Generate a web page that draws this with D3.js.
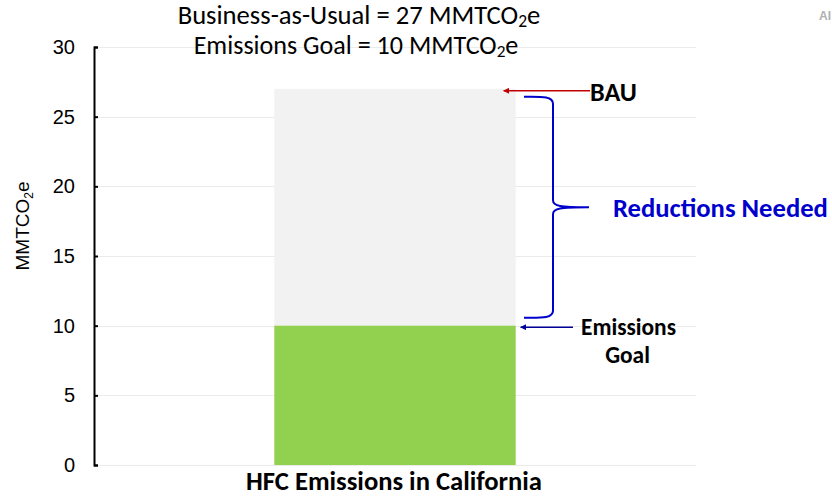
<!DOCTYPE html>
<html><head><meta charset="utf-8">
<script src="https://cdn.jsdelivr.net/npm/d3@7"></script>
<style>body{margin:0;background:#fff}svg{display:block}</style>
</head><body>
<svg id="c" width="832" height="498"></svg>
<script>
const categories = ["HFC Emissions in California"];
const bauValues = [27];
const goalValues = [10];
const yTicks = [0, 5, 10, 15, 20, 25, 30];
const titleLines = ["Business-as-Usual = 27 MMTCO", "Emissions Goal = 10 MMTCO"];
const yLabel = "MMTCO";

const svg = d3.select("#c");
const FONT = "Carlito, Lato, 'Open Sans', sans-serif";
const ARIAL = "'Liberation Sans', Arial, sans-serif";

const y = d3.scaleLinear().domain([0, 30]).range([465, 47]);
const x = d3.scaleBand().domain(categories).range([94, 696]).padding(0.4276);

function fit(sel, w) {
  const n = sel.node();
  const cur = parseFloat(sel.attr("font-size"));
  const len = n.getComputedTextLength();
  sel.attr("font-size", (cur * w / len).toFixed(2));
}

// gridlines
svg.append("g").selectAll("line").data(yTicks).join("line")
  .attr("x1", 96).attr("x2", 696)
  .attr("y1", d => Math.round(y(d)) + 0.5).attr("y2", d => Math.round(y(d)) + 0.5)
  .attr("stroke", "#ebebeb").attr("stroke-width", 1);

// bars
const cat = categories[0];
svg.append("g").selectAll("rect").data(categories).join("rect")
  .attr("x", d => x(d)).attr("width", x.bandwidth())
  .attr("y", (d, i) => y(bauValues[i])).attr("height", (d, i) => y(goalValues[i]) - y(bauValues[i]))
  .attr("fill", "#f2f2f2");
svg.append("g").selectAll("rect").data(categories).join("rect")
  .attr("x", d => x(d)).attr("width", x.bandwidth())
  .attr("y", (d, i) => y(goalValues[i])).attr("height", (d, i) => y(0) - y(goalValues[i]))
  .attr("fill", "#92d050");

// axis
const ax = svg.append("g").attr("transform", "translate(94,0)")
  .call(d3.axisLeft(y).tickValues(yTicks).tickSizeInner(-4).tickSizeOuter(-4).tickPadding(19));
ax.selectAll("path,line").attr("stroke", "#000").attr("stroke-width", 2);
ax.selectAll("text").attr("font-family", ARIAL).attr("font-size", 20).attr("fill", "#000");

// y label
const yl = svg.append("text").attr("transform", "translate(29,226) rotate(-90)")
  .attr("text-anchor", "middle").attr("font-family", ARIAL).attr("font-size", 19).attr("fill", "#000");
yl.append("tspan").text(yLabel);
yl.append("tspan").attr("font-size", 12).attr("dy", 4).text("2");
yl.append("tspan").attr("dy", -4).text("e");

// titles
const tPos = [[359, 24, 363], [356, 54, 325]];
titleLines.forEach((t, i) => {
  const tt = svg.append("text").attr("x", tPos[i][0]).attr("y", tPos[i][1])
    .attr("text-anchor", "middle").attr("font-family", FONT).attr("font-size", 22).attr("fill", "#000");
  tt.append("tspan").text(t);
  tt.append("tspan").attr("class", "sub").attr("font-size", 15).attr("dy", 3).text("2");
  tt.append("tspan").attr("dy", -3).text("e");
  fit(tt, tPos[i][2]);
  tt.select(".sub").attr("font-size", parseFloat(tt.attr("font-size")) * 0.66);
});

// category label
const cl = svg.append("text").attr("x", x(cat) + x.bandwidth() / 2 - 1).attr("y", 490)
  .attr("text-anchor", "middle").attr("font-family", FONT).attr("font-weight", "bold")
  .attr("font-size", 20).attr("fill", "#000").text(cat);
fit(cl, 296);

// markers
const defs = svg.append("defs");
[["arrR", "#c00000"], ["arrB", "#000099"]].forEach(([id, c]) => {
  defs.append("marker").attr("id", id).attr("viewBox", "0 0 10 10").attr("refX", 9).attr("refY", 5)
    .attr("markerWidth", 4).attr("markerHeight", 4).attr("orient", "auto")
    .append("path").attr("d", "M0,0 L10,5 L0,10 Z").attr("fill", c);
});
const xr = x(cat) + x.bandwidth();

// BAU arrow
svg.append("line").attr("x1", 590).attr("x2", xr - 12).attr("y1", y(bauValues[0]) + 2).attr("y2", y(bauValues[0]) + 2)
  .attr("stroke", "#c00000").attr("stroke-width", 1.5).attr("marker-end", "url(#arrR)");
const bau = svg.append("text").attr("x", 590).attr("y", 101).attr("font-family", FONT).attr("font-weight", "bold")
  .attr("font-size", 20).attr("fill", "#000").text("BAU");
fit(bau, 47);

// Goal arrow
svg.append("line").attr("x1", 573).attr("x2", xr + 5).attr("y1", y(goalValues[0]) + 1.5).attr("y2", y(goalValues[0]) + 1.5)
  .attr("stroke", "#000099").attr("stroke-width", 1.5).attr("marker-end", "url(#arrB)");
const eg1 = svg.append("text").attr("x", 628.5).attr("y", 335).attr("text-anchor", "middle").attr("font-family", FONT)
  .attr("font-weight", "bold").attr("font-size", 20).attr("fill", "#000").text("Emissions");
fit(eg1, 95);
svg.append("text").attr("x", 627.5).attr("y", 363).attr("text-anchor", "middle").attr("font-family", FONT)
  .attr("font-weight", "bold").attr("font-size", eg1.attr("font-size")).attr("fill", "#000").text("Goal");

// brace
const bTop = y(bauValues[0]) + 8, bBot = y(goalValues[0]) - 8, bMid = y((bauValues[0] + goalValues[0]) / 2);
const bx0 = 524, bx1 = 553, tip = 589;
const bp = d3.path();
bp.moveTo(bx0, bTop);
bp.bezierCurveTo(540, bTop, bx1, bTop - 1, bx1, bTop + 7);
bp.lineTo(bx1, bMid - 7);
bp.bezierCurveTo(bx1, bMid - 1, 560, bMid, tip, bMid);
bp.moveTo(tip, bMid);
bp.bezierCurveTo(560, bMid, bx1, bMid + 1, bx1, bMid + 7);
bp.lineTo(bx1, bBot - 7);
bp.bezierCurveTo(bx1, bBot + 1, 540, bBot, bx0, bBot);
svg.append("path").attr("d", bp.toString()).attr("fill", "none").attr("stroke", "#0000cc").attr("stroke-width", 2);
const rn = svg.append("text").attr("x", 613).attr("y", 217).attr("font-family", FONT).attr("font-weight", "bold")
  .attr("font-size", 20).attr("fill", "#0000cc").text("Reductions Needed");
fit(rn, 215);

// corner logo fragment
svg.append("text").attr("x", 819).attr("y", 20).attr("font-family", ARIAL).attr("font-weight", "bold")
  .attr("font-size", 12).attr("fill", "#b0b0b0").text("AI");
</script>
</body></html>
